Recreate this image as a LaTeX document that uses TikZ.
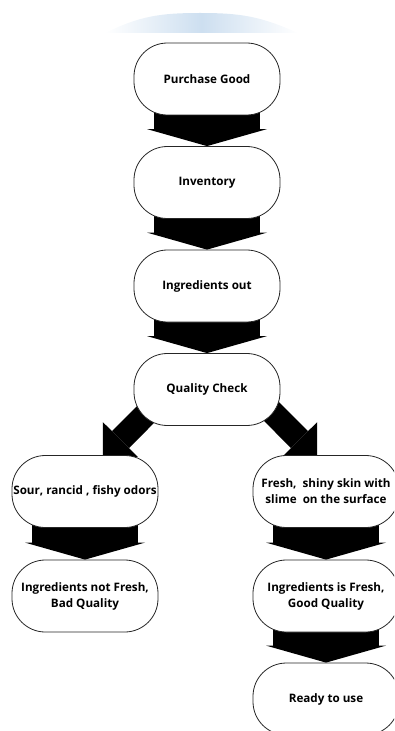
\documentclass[tikz,border=0pt]{standalone}
\usepackage{fontspec}
\setmainfont{Open Sans}
\usetikzlibrary{arrows.meta,calc,backgrounds}

\definecolor{arcblue}{RGB}{205,223,240}

\tikzset{
    flowbox/.style={draw=black!85, line width=0.6pt, fill=white, rectangle,
        rounded corners=25pt, minimum width=109.5pt, minimum height=54pt,
        inner sep=0pt, align=center,
        font=\fontsize{8.75}{12}\selectfont\bfseries},
    bigarrow/.style={line width=79.5pt,
        -{Triangle[length=12.75pt, width=90pt, line width=0pt]}},
    diagarrow/.style={line width=18pt,
        -{Triangle[length=18.5pt, width=37pt, line width=0pt]}}
}

\begin{document}
\begin{tikzpicture}[x=0.75pt, y=-0.75pt]
    \useasboundingbox (0,0) rectangle (394,731);
    \clip (0,0) rectangle (394,731);

    % Faded header arc
    \shade[left color=white, right color=white, middle color=arcblue]
        (105,33) .. controls (140,16) and (160,13) .. (200,13)
        .. controls (240,13) and (260,16) .. (298,33) -- cycle;

    % Main column
    \node[flowbox] (pg)  at (207,79)    {Purchase Good};
    \node[flowbox] (inv) at (207,182.5) {Inventory};
    \node[flowbox] (io)  at (207,286)   {Ingredients out};
    \node[flowbox] (qc)  at (207,389.5) {Quality Check};

    % Left branch
    \node[flowbox] (sour) at (85,491.5) {Sour, rancid , fishy odors};
    \node[flowbox] (notf) at (85,596)   {Ingredients not Fresh,\\Bad Quality};

    % Right branch
    \node[flowbox] (fresh) at (326,491.5) {Fresh,\ \ shiny skin with\\slime\ \ on the surface};
    \node[flowbox] (isf)   at (326,596)   {Ingredients is Fresh,\\Good Quality};
    \node[flowbox] (ready) at (326,699)   {Ready to use};

    % Block arrows
    \begin{scope}[on background layer]
        \foreach \a/\b in {pg/inv, inv/io, io/qc, sour/notf, fresh/isf, isf/ready} {
            \draw[bigarrow] ([yshift=12pt]\a.south) -- (\b.north);
        }
        \draw[diagarrow] ($(qc.center)+(-57,20.5)$) -- ($(sour.north)+(18,2)$);
        \draw[diagarrow] ($(qc.center)+(63,20.5)$) -- ($(fresh.north)+(-9,2)$);
    \end{scope}
\end{tikzpicture}
\end{document}
